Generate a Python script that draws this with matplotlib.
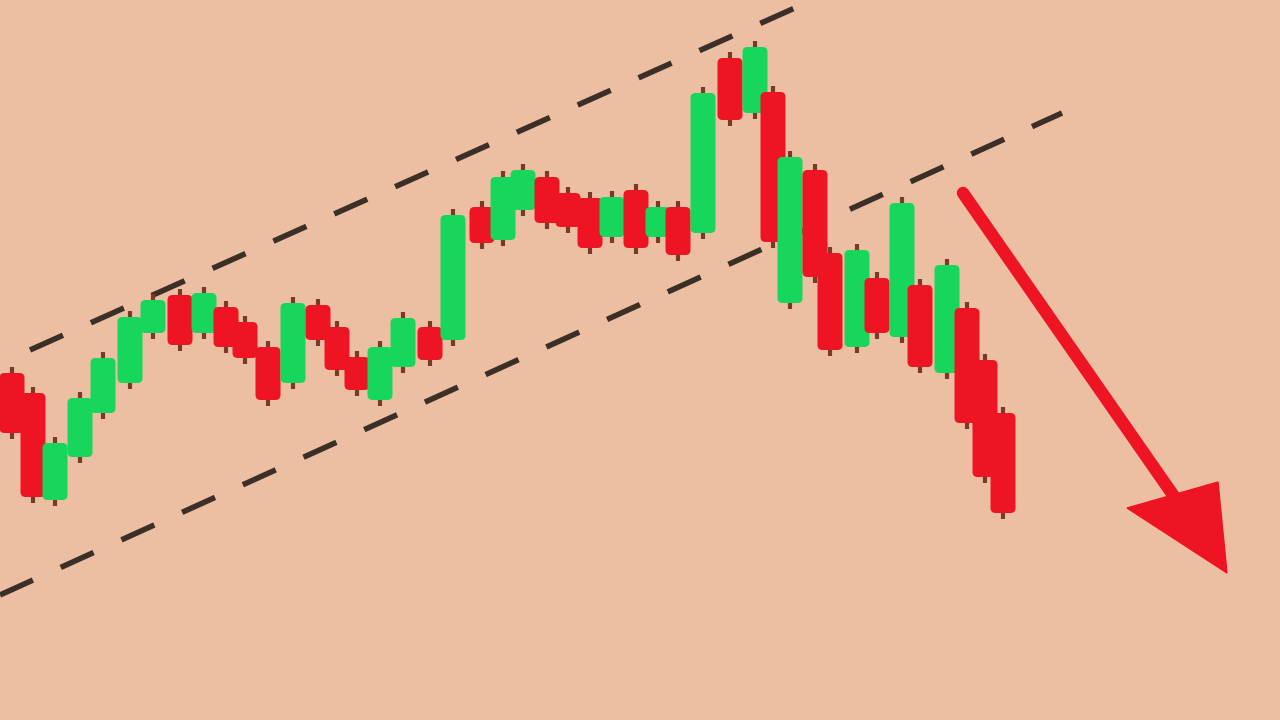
import matplotlib.pyplot as plt
from matplotlib.patches import FancyBboxPatch, Polygon

# candle time positions and prices (price = 720 - screen row)
t = [12, 33, 55, 80, 103, 130, 153, 180, 204, 226, 245, 268, 293, 318, 337,
     357, 380, 403, 430, 453, 482, 503, 523, 547, 568, 590, 612, 636, 658, 678,
     703, 730, 755, 773, 790, 815, 830, 857, 877, 902, 920, 947, 967, 985, 1003]
top = [373, 393, 443, 398, 358, 317, 300, 295, 293, 307, 322, 347, 303, 305, 327,
       357, 347, 318, 327, 215, 207, 177, 170, 177, 193, 198, 197, 190, 207, 207,
       93, 58, 47, 92, 157, 170, 253, 250, 278, 203, 285, 265, 308, 360, 413]
bot = [433, 497, 500, 457, 413, 383, 333, 345, 333, 347, 358, 400, 383, 340, 370,
       390, 400, 367, 360, 340, 243, 240, 210, 223, 227, 248, 237, 248, 237, 255,
       233, 120, 113, 242, 303, 277, 350, 347, 333, 337, 367, 373, 423, 477, 513]
up = "RRGGGGGRGRRRGRRRGGRGRGGRRRGRGRGRGRGRRGRGRGRRR"

prices_hi = [720 - v for v in top]
prices_lo = [720 - v for v in bot]
wick_hi = [h + 6 for h in prices_hi]
wick_lo = [l - 6 for l in prices_lo]

# channel lines (start/end in the same units)
upper_x = [30, 835]
upper_y = [720 - 350, 720 + 10]
lower_x = [0, 1062]
lower_y = [720 - 595, 720 - 113]

BG = "#edbfa2"
RED = "#ee1424"
GREEN = "#17d65c"

fig = plt.figure(figsize=(12.8, 7.2), dpi=100)
fig.patch.set_facecolor(BG)
ax = fig.add_axes([0, 0, 1, 1])
ax.set_facecolor(BG)
ax.set_xlim(0, 1280)
ax.set_ylim(0, 720)
ax.axis("off")

dash = dict(color="#3b2f28", lw=4, linestyle=(0, (6.5, 5.5)), zorder=1)
ax.plot(upper_x, upper_y, **dash)
ax.plot(lower_x, lower_y, **dash)

colors = [GREEN if c == "G" else RED for c in up]
ax.vlines(t, wick_lo, wick_hi, color="#7a3a2a", lw=3, zorder=2)
w = 25
for i in range(len(t)):
    body = FancyBboxPatch((t[i] - w / 2, prices_lo[i]), w, prices_hi[i] - prices_lo[i],
                          boxstyle="round,pad=0,rounding_size=5",
                          facecolor=colors[i], edgecolor="none", zorder=3)
    ax.add_patch(body)

# red down arrow
ax.plot([963, 1180], [720 - 193, 720 - 505], color=RED, lw=9,
        solid_capstyle="round", zorder=4)
ax.add_patch(Polygon([(1127, 720 - 508), (1218, 720 - 482), (1227, 720 - 573)],
                     closed=True, color=RED, zorder=5))

fig.savefig("out.png", dpi=100, facecolor=BG)
